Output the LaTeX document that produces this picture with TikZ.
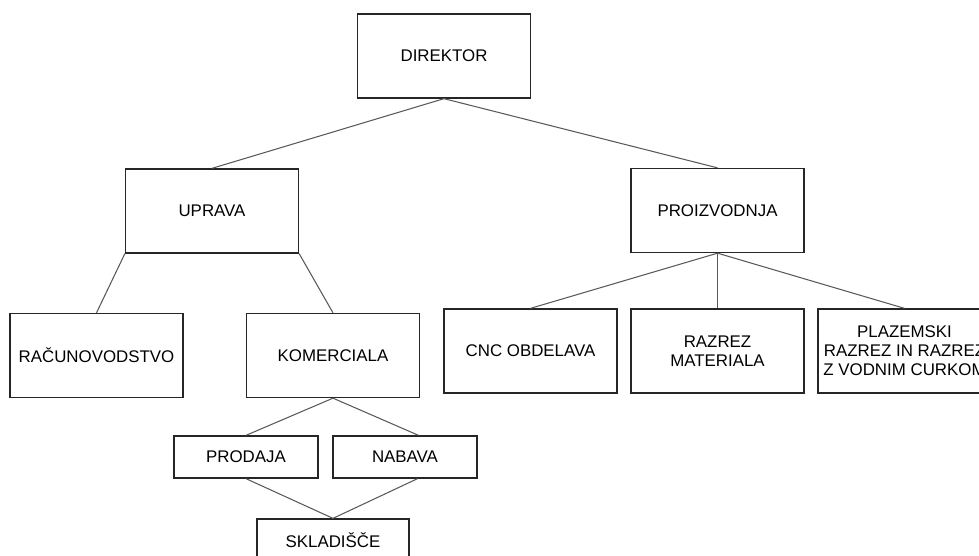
\documentclass[tikz,border=0pt]{standalone}
\usepackage{fontspec}
\setmainfont{Liberation Sans}
\usetikzlibrary{positioning}

\begin{document}
\begin{tikzpicture}[
    box/.style={draw=black!85, line width=0.75pt, rectangle, minimum width=3.46cm, minimum height=1.68cm, align=center, inner sep=1pt},
    smallbox/.style={box, minimum width=2.88cm, minimum height=0.84cm},
    link/.style={draw=black!65, line width=0.6pt},
    font=\fontsize{9.6}{10.8}\selectfont
]
    \useasboundingbox (0,0) rectangle (19.58,11.1);
    \clip (0,0) rectangle (19.58,11.1);

    % vrh
    \node[box] (direktor) at (8.88, 9.98) {DIREKTOR};

    % druga raven
    \node[box] (uprava) at (4.24, 6.88) {UPRAVA};
    \node[box] (proizvodnja) at (14.35, 6.89) {PROIZVODNJA};

    % tretja raven
    \node[box] (racunovodstvo) at (1.93, 3.99) {RAČUNOVODSTVO};
    \node[box] (komerciala) at (6.66, 3.99) {KOMERCIALA};
    \node[box] (cnc) at (10.61, 4.08) {CNC OBDELAVA};
    \node[box] (razrez) at (14.35, 4.08) {RAZREZ\\MATERIALA};
    \node[box] (plazemski) at (18.09, 4.08) {PLAZEMSKI\\RAZREZ IN RAZREZ\\Z VODNIM CURKOM};

    % pod komercialo
    \node[smallbox] (prodaja) at (4.92, 1.96) {PRODAJA};
    \node[smallbox] (nabava) at (8.10, 1.96) {NABAVA};
    \node[smallbox, minimum width=3.04cm] (skladisce) at (6.66, 0.30) {SKLADIŠČE};

    % povezave
    \draw[link] (direktor.south) -- (uprava.north);
    \draw[link] (direktor.south) -- (proizvodnja.north);
    \draw[link] (uprava.south west) -- (racunovodstvo.north);
    \draw[link] (uprava.south east) -- (komerciala.north);
    \draw[link] (proizvodnja.south) -- (cnc.north);
    \draw[link] (proizvodnja.south) -- (razrez.north);
    \draw[link] (proizvodnja.south) -- (plazemski.north);
    \draw[link] (komerciala.south) -- (prodaja.north);
    \draw[link] (komerciala.south) -- ([xshift=0.27cm]nabava.north);
    \draw[link] (prodaja.south) -- (skladisce.north);
    \draw[link] ([xshift=0.25cm]nabava.south) -- (skladisce.north);

\end{tikzpicture}
\end{document}
